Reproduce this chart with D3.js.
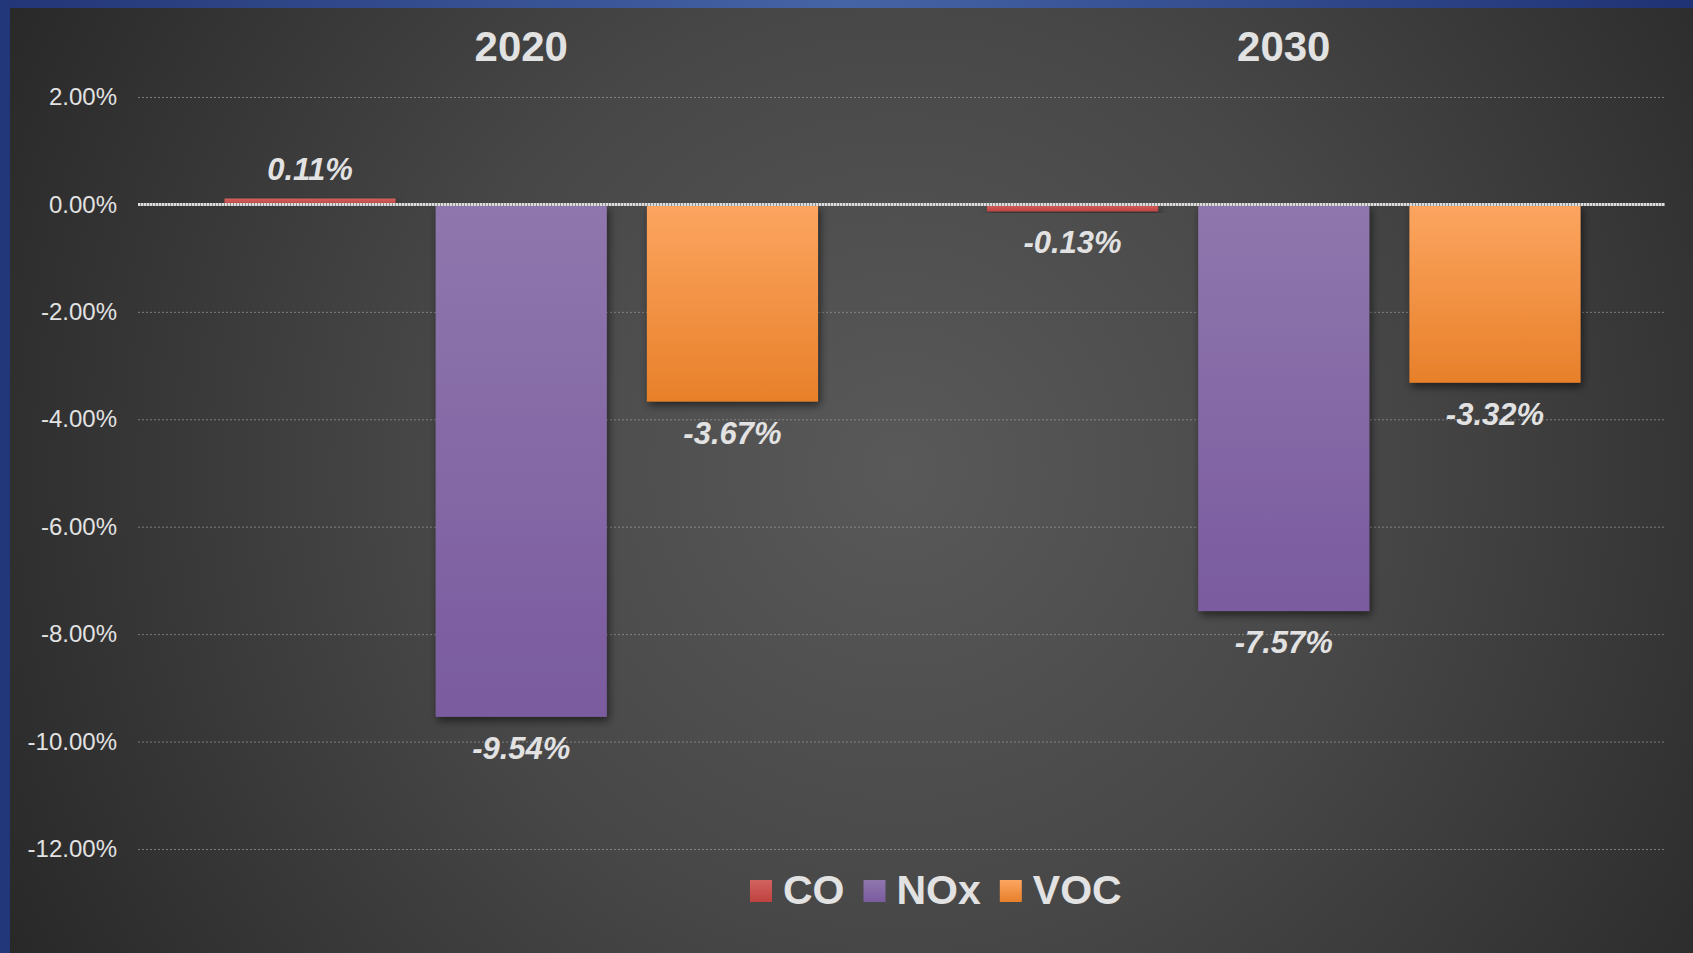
<!DOCTYPE html>
<html>
<head>
<meta charset="utf-8">
<script src="https://cdn.jsdelivr.net/npm/d3@7"></script>
<style>
  html, body { margin: 0; padding: 0; background: #2a2a2a; }
  svg { display: block; }
</style>
</head>
<body>
<div id="chart"></div>
<script>
////////////////////////////////////////////////////////
// Data ////////////////////////////////////////////////
////////////////////////////////////////////////////////

var years = ["2020", "2030"];
var pollutants = ["CO", "NOx", "VOC"];
var coValues = [0.11, -0.13];
var noxValues = [-9.54, -7.57];
var vocValues = [-3.67, -3.32];
var yTicks = [2, 0, -2, -4, -6, -8, -10, -12];

var cfg = {
  width: 1693,
  height: 953,
  plot: { left: 140, right: 1665, top: 97, bottom: 849 },
  font: "'Liberation Sans', Arial, Helvetica, sans-serif",
  text: "#e2e2e2",
  colors: {
    CO:  ["#d2625f", "#bf4240"],
    NOx: ["#8f77ad", "#7a5b9f"],
    VOC: ["#fca560", "#e8802a"]
  }
};

var seriesValues = { CO: coValues, NOx: noxValues, VOC: vocValues };

var rows = [];
years.forEach(function(yr, i) {
  pollutants.forEach(function(p) {
    rows.push({ year: yr, key: p, value: seriesValues[p][i] });
  });
});

////////////////////////////////////////////////////////
// SVG + background ////////////////////////////////////
////////////////////////////////////////////////////////

var svg = d3.select("#chart").append("svg")
    .attr("width", cfg.width)
    .attr("height", cfg.height);

var defs = svg.append("defs");

var bg = defs.append("radialGradient")
    .attr("id", "bg")
    .attr("gradientUnits", "userSpaceOnUse")
    .attr("cx", 900).attr("cy", 470).attr("r", 1050);
bg.append("stop").attr("offset", "0%").attr("stop-color", "#595959");
bg.append("stop").attr("offset", "45%").attr("stop-color", "#474747");
bg.append("stop").attr("offset", "100%").attr("stop-color", "#262626");

var topBar = defs.append("linearGradient").attr("id", "topbar");
topBar.append("stop").attr("offset", "0%").attr("stop-color", "#233677");
topBar.append("stop").attr("offset", "50%").attr("stop-color", "#4564a6");
topBar.append("stop").attr("offset", "100%").attr("stop-color", "#1f3274");

pollutants.forEach(function(p) {
  var g = defs.append("linearGradient")
      .attr("id", "grad-" + p)
      .attr("x1", 0).attr("y1", 0).attr("x2", 0).attr("y2", 1);
  g.append("stop").attr("offset", "0%").attr("stop-color", cfg.colors[p][0]);
  g.append("stop").attr("offset", "100%").attr("stop-color", cfg.colors[p][1]);
});

defs.append("filter")
    .attr("id", "shadow")
    .attr("x", "-10%").attr("y", "-10%").attr("width", "130%").attr("height", "130%")
  .append("feDropShadow")
    .attr("dx", 2).attr("dy", 4)
    .attr("stdDeviation", 4)
    .attr("flood-color", "#000")
    .attr("flood-opacity", 0.55);

svg.append("rect")
    .attr("width", cfg.width).attr("height", cfg.height)
    .attr("fill", "url(#bg)");

svg.append("rect")
    .attr("width", cfg.width).attr("height", 8)
    .attr("fill", "url(#topbar)");
svg.append("rect")
    .attr("y", 0).attr("width", 10).attr("height", cfg.height)
    .attr("fill", "#22377a");

////////////////////////////////////////////////////////
// Scales //////////////////////////////////////////////
////////////////////////////////////////////////////////

var x0 = d3.scaleBand()
    .domain(years)
    .range([cfg.plot.left, cfg.plot.right]);

var x1 = d3.scaleBand()
    .domain(pollutants)
    .range([0, x0.bandwidth()])
    .paddingInner(0.19)
    .paddingOuter(0.4);

var y = d3.scaleLinear()
    .domain([-12, 2])
    .range([cfg.plot.bottom, cfg.plot.top]);

////////////////////////////////////////////////////////
// Axis + grid /////////////////////////////////////////
////////////////////////////////////////////////////////

var axis = svg.append("g")
    .attr("transform", "translate(138,0)")
    .call(d3.axisLeft(y)
      .tickValues(yTicks)
      .tickSize(-(cfg.plot.right - 138))
      .tickPadding(21)
      .tickFormat(function(d) { return d.toFixed(2) + "%"; }));

axis.select(".domain").remove();
axis.selectAll(".tick line")
    .attr("stroke", "#9a9a9a")
    .attr("stroke-width", 1)
    .attr("stroke-dasharray", "2,2")
    .attr("opacity", 0.7);
axis.selectAll(".tick text")
    .attr("fill", cfg.text)
    .style("font-family", cfg.font)
    .style("font-size", "24px");

// category titles
svg.selectAll(".year")
    .data(years)
    .enter().append("text")
    .attr("class", "year")
    .attr("x", function(d) { return x0(d) + x0.bandwidth() / 2; })
    .attr("y", 61)
    .attr("text-anchor", "middle")
    .attr("fill", cfg.text)
    .style("font-family", cfg.font)
    .style("font-weight", "bold")
    .style("font-size", "42px")
    .text(function(d) { return d; });

////////////////////////////////////////////////////////
// Bars ////////////////////////////////////////////////
////////////////////////////////////////////////////////

svg.append("g").selectAll("rect")
    .data(rows)
    .enter().append("rect")
    .attr("x", function(d) { return x0(d.year) + x1(d.key); })
    .attr("y", function(d) { return y(Math.max(0, d.value)); })
    .attr("width", x1.bandwidth())
    .attr("height", function(d) { return Math.abs(y(d.value) - y(0)); })
    .attr("fill", function(d) { return "url(#grad-" + d.key + ")"; })
    .attr("filter", "url(#shadow)");

// zero line (grey with a light dotted texture)
var zero = svg.append("g");
zero.append("line")
    .attr("x1", 138).attr("x2", cfg.plot.right)
    .attr("y1", y(0)).attr("y2", y(0))
    .attr("stroke", "#8e8e8e")
    .attr("stroke-width", 3);
zero.append("line")
    .attr("x1", 138).attr("x2", cfg.plot.right)
    .attr("y1", y(0)).attr("y2", y(0))
    .attr("stroke", "#dcdcdc")
    .attr("stroke-width", 3)
    .attr("stroke-dasharray", "2,1");

// value labels
svg.append("g").selectAll("text")
    .data(rows)
    .enter().append("text")
    .attr("x", function(d) { return x0(d.year) + x1(d.key) + x1.bandwidth() / 2; })
    .attr("y", function(d) { return d.value >= 0 ? y(d.value) - 19 : y(d.value) + 42; })
    .attr("text-anchor", "middle")
    .attr("fill", cfg.text)
    .style("font-family", cfg.font)
    .style("font-weight", "bold")
    .style("font-style", "italic")
    .style("font-size", "31px")
    .text(function(d) { return d.value.toFixed(2) + "%"; });

////////////////////////////////////////////////////////
// Legend //////////////////////////////////////////////
////////////////////////////////////////////////////////

var legend = svg.append("g");
var lx = 750;
pollutants.forEach(function(p) {
  legend.append("rect")
      .attr("x", lx).attr("y", 880)
      .attr("width", 22).attr("height", 22)
      .attr("fill", "url(#grad-" + p + ")");
  var t = legend.append("text")
      .attr("x", lx + 33).attr("y", 904)
      .attr("fill", cfg.text)
      .style("font-family", cfg.font)
      .style("font-weight", "bold")
      .style("font-size", "41px")
      .text(p);
  lx += 33 + t.node().getComputedTextLength() + 19;
});
</script>
</body>
</html>
